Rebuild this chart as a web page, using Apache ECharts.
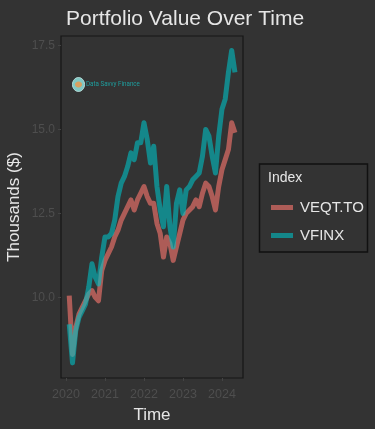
<!DOCTYPE html>
<html>
<head>
<meta charset="utf-8">
<script src="https://cdn.jsdelivr.net/npm/echarts@6/dist/echarts.min.js"></script>
<style>html,body{margin:0;padding:0;background:#333333;}#c{width:375px;height:429px;}</style>
</head>
<body>
<div id="c"></div>
<script>
const months = ['2020-02','2020-03','2020-04','2020-05','2020-06','2020-07','2020-08','2020-09','2020-10','2020-11','2020-12',
'2021-01','2021-02','2021-03','2021-04','2021-05','2021-06','2021-07','2021-08','2021-09','2021-10','2021-11','2021-12',
'2022-01','2022-02','2022-03','2022-04','2022-05','2022-06','2022-07','2022-08','2022-09','2022-10','2022-11','2022-12',
'2023-01','2023-02','2023-03','2023-04','2023-05','2023-06','2023-07','2023-08','2023-09','2023-10','2023-11','2023-12',
'2024-01','2024-02','2024-03','2024-04','2024-05'];
const veqt = [10.05,8.3,9.1,9.5,9.7,9.9,10.1,10.2,10.0,9.9,10.8,
11.1,11.3,11.5,11.8,12.0,12.3,12.5,12.7,12.9,12.6,12.9,13.1,
13.3,13.0,12.8,12.8,12.2,11.9,11.2,11.8,11.6,11.1,11.5,11.9,
12.3,12.5,12.6,12.7,12.9,12.7,13.1,13.4,13.3,13.0,12.6,13.3,
13.8,14.1,14.4,15.2,14.9];
const vfinx = [9.2,8.05,9.0,9.4,9.6,9.8,10.3,11.0,10.6,10.4,11.2,
11.8,11.8,11.9,12.3,13.0,13.4,13.6,13.9,14.3,14.1,14.6,14.6,
15.2,14.7,14.0,14.5,13.3,12.6,12.1,13.3,12.1,11.5,12.8,13.2,
12.5,13.2,13.3,13.5,13.6,13.7,14.2,15.0,14.8,14.2,13.7,14.8,
15.6,15.9,16.7,17.35,16.7];
const yearTicks = [2020,2021,2022,2023,2024];
const yTicks = [10,12.5,15,17.5];

const toYear = s => { const [y,m] = s.split('-').map(Number); return y + (m-1)/12; };
const pairs = arr => months.map((d,i) => [toYear(d), arr[i]]);

const chart = echarts.init(document.getElementById('c'), null, {renderer:'canvas'});
const tickColor = '#4e4e4e';
const ff = 'Liberation Sans, Arial, sans-serif';
chart.setOption({
  backgroundColor:'#333333',
  animation:false,
  title:{text:'Portfolio Value Over Time', left:61, top:4,
    textStyle:{color:'#e6e6e6', fontSize:21, fontWeight:'normal', fontFamily:ff}},
  grid:{left:61, right:132, top:36, bottom:49, show:true, borderColor:'#161616', borderWidth:1.2, backgroundColor:'#333333'},
  xAxis:{type:'value', min:2019.872, max:2024.54,
    name:'Time', nameLocation:'middle', nameGap:29,
    nameTextStyle:{color:'#e6e6e6', fontSize:17, fontFamily:ff},
    axisLine:{show:false},
    axisTick:{show:true, length:3, lineStyle:{color:'#444'}, customValues:yearTicks},
    axisLabel:{color:tickColor, fontSize:12.5, margin:10, customValues:yearTicks, formatter:v=>String(Math.round(v)), fontFamily:ff},
    splitLine:{show:false}},
  yAxis:{type:'value', min:7.6, max:17.78,
    name:'Thousands ($)', nameLocation:'middle', nameGap:38, nameRotate:90,
    nameTextStyle:{color:'#e6e6e6', fontSize:17, fontFamily:ff},
    axisLine:{show:false},
    axisTick:{show:true, length:3, lineStyle:{color:'#444'}, customValues:yTicks},
    axisLabel:{color:tickColor, fontSize:12, margin:6, customValues:yTicks, formatter:v=>v.toFixed(1), fontFamily:ff},
    splitLine:{show:false}},
  legend:{orient:'vertical', left:266, top:195, itemWidth:22, itemHeight:5, itemGap:13, icon:'rect',
    textStyle:{color:'#e6e6e6', fontSize:15, fontFamily:ff, padding:[0,0,0,2]},
    data:['VEQT.TO','VFINX']},
  graphic:[
    {type:'rect', shape:{x:259.5, y:164, width:108, height:88}, style:{fill:'none', stroke:'#111', lineWidth:1.5}, z:-1},
    {type:'text', x:268, y:171, style:{text:'Index', fill:'#e6e6e6', fontSize:14, fontFamily:ff}},
    {type:'ellipse', shape:{cx:78.5, cy:84.5, rx:6, ry:7}, style:{fill:'#7fc8c4', stroke:'#b9e0dc', lineWidth:1}},
    {type:'ellipse', shape:{cx:78.5, cy:84.5, rx:3.5, ry:3}, style:{fill:'#d9a060'}},
    {type:'text', x:86, y:80, scaleX:0.78, style:{text:'Data Savvy Finance', fill:'#1f9e9e', fontSize:8, fontFamily:'Roboto, sans-serif'}}
  ],
  series:[
    {name:'VEQT.TO', type:'line', data:pairs(veqt), showSymbol:false, symbol:'none',
      lineStyle:{width:5, color:'rgba(248,118,109,0.62)', join:'round'}, itemStyle:{color:'rgba(248,118,109,0.62)'}},
    {name:'VFINX', type:'line', data:pairs(vfinx), showSymbol:false, symbol:'none',
      lineStyle:{width:5, color:'rgba(0,191,196,0.6)', join:'round'}, itemStyle:{color:'rgba(0,191,196,0.6)'}}
  ]
});
</script>
</body>
</html>
